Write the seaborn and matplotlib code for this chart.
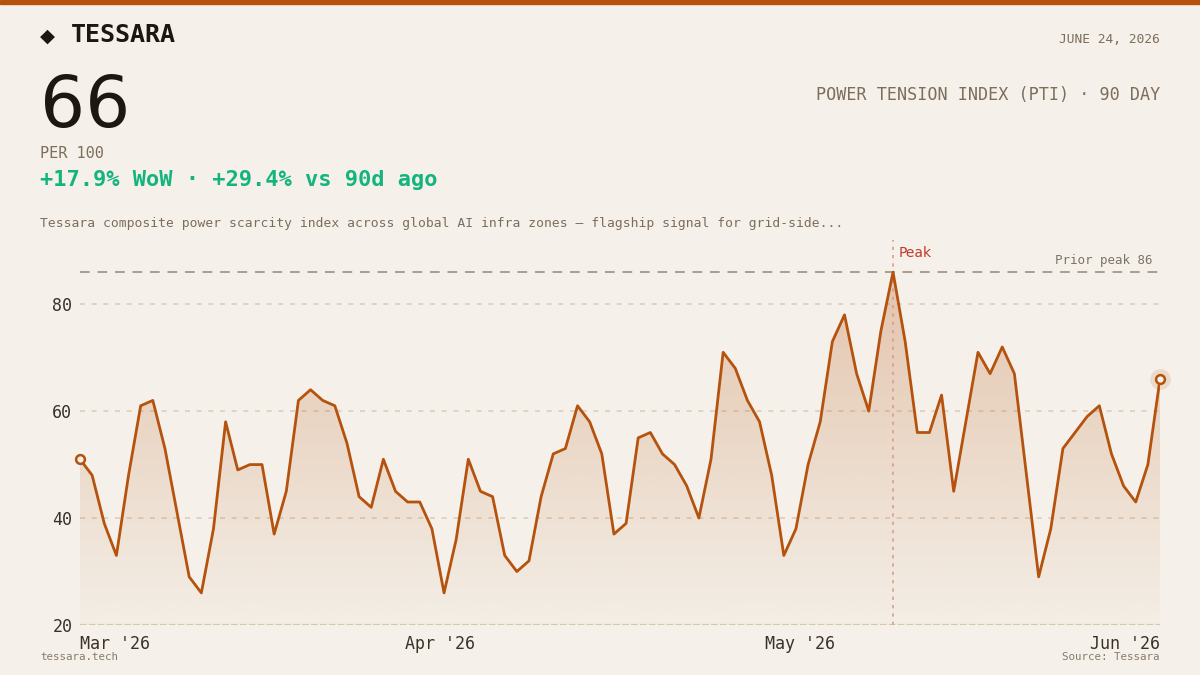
import numpy as np
import pandas as pd
import matplotlib
matplotlib.use("Agg")
import matplotlib.pyplot as plt
from matplotlib.patches import Rectangle
import seaborn as sns

# data (90 daily points)
pti_values = [51, 48, 39, 33, 48, 61, 62, 53, 41, 29,
              26, 38, 58, 49, 50, 50, 37, 45, 62, 64,
              62, 61, 54, 44, 42, 51, 45, 43, 43, 38,
              26, 36, 51, 45, 44, 33, 30, 32, 44, 52,
              53, 61, 58, 52, 37, 39, 55, 56, 52, 50,
              46, 40, 51, 71, 68, 62, 58, 48, 33, 38,
              50, 58, 73, 78, 67, 60, 75, 86, 73, 56,
              56, 63, 45, 58, 71, 67, 72, 67, 48, 29,
              38, 53, 56, 59, 61, 52, 46, 43, 50, 66]
month_labels = ["Mar '26", "Apr '26", "May '26", "Jun '26"]
y_ticks = [20, 40, 60, 80]
prior_peak = 86

df = pd.DataFrame({"day": np.arange(len(pti_values)), "pti": pti_values})
peak_day = int(df["pti"].idxmax())

BG = "#f5f1ea"
LINE = "#b5520e"
DARK = "#1c1712"
MUTED = "#7d6d5b"
MONO = "DejaVu Sans Mono"

sns.set_theme(style="white")
plt.rcParams["font.family"] = ["DejaVu Sans"]

fig = plt.figure(figsize=(12, 6.75), dpi=100, facecolor=BG)
ax = fig.add_axes([80 / 1200, 50 / 675, 1080 / 1200, 385 / 675])
ax.set_facecolor(BG)

ymin, ymax = 20, 92
last = len(df) - 1

# gradient fill under the line
fill = ax.fill_between(df["day"], df["pti"], ymin, color="none", lw=0)
rgb = matplotlib.colors.to_rgb(LINE)
alpha = np.linspace(0.02, 0.28, 256).reshape(-1, 1)
grad = np.zeros((256, 1, 4))
grad[..., :3] = rgb
grad[..., 3] = alpha
im = ax.imshow(grad, extent=[0, last, ymin, prior_peak], origin="lower",
               aspect="auto", zorder=1, interpolation="bicubic")
im.set_clip_path(fill.get_paths()[0], transform=ax.transData)

# gridlines
for t in y_ticks[1:]:
    ax.axhline(t, color="#dccfb8", lw=1.2, ls=(0, (3, 4)), zorder=0)
ax.axhline(ymin, color="#d8cab0", lw=1.6, ls=(0, (3, 1)), zorder=0)

# prior peak reference
ax.axhline(prior_peak, color="#a89e8e", lw=1.4, ls=(0, (5, 4)), zorder=2)
ax.text(last - 0.6, prior_peak + 1.0, "Prior peak 86", ha="right", va="bottom",
        fontsize=9, color="#7d7265", family=MONO)

# peak marker
ax.axvline(peak_day, color="#e09a90", lw=1.2, ls=(0, (2, 3)), zorder=2)
ax.text(peak_day + 0.5, 88.2, "Peak", ha="left", va="bottom",
        fontsize=10, color="#c0392b")

sns.lineplot(data=df, x="day", y="pti", color=LINE, lw=2.0, ax=ax, zorder=3)

# endpoint markers
ax.scatter([df["day"].iloc[-1]], [df["pti"].iloc[-1]], s=220, color=LINE,
           alpha=0.15, lw=0, zorder=4, clip_on=False)
ax.scatter(df["day"].iloc[[0, -1]], df["pti"].iloc[[0, -1]], s=40,
           facecolor=BG, edgecolor=LINE, lw=1.8, zorder=5, clip_on=False)

ax.set_xlim(0, last)
ax.set_ylim(ymin, ymax)
ax.set_xticks(np.linspace(0, last, len(month_labels)))
ax.set_xticklabels(month_labels)
ax.set_yticks(y_ticks)
ax.tick_params(length=0, labelsize=12, colors="#3a3128")
ax.tick_params(axis="x", pad=7)
ax.tick_params(axis="y", pad=5.5)
for lab in ax.get_xticklabels() + ax.get_yticklabels():
    lab.set_family(MONO)
xl = ax.get_xticklabels()
xl[0].set_ha("left")
xl[-1].set_ha("right")
ax.set_xlabel("")
ax.set_ylabel("")
sns.despine(ax=ax, left=True, bottom=True)


def ftext(x, y, s, **kw):
    fig.text(x / 1200, 1 - y / 675, s, va="baseline", **kw)


# top accent bar
fig.patches.append(Rectangle((0, 1 - 4 / 675), 1, 4 / 675, transform=fig.transFigure,
                             color=LINE, zorder=10))

ftext(40, 42, "◆", fontsize=14, color=DARK)
ftext(71, 42, "TESSARA", fontsize=18, color=DARK, family=MONO, weight="bold")
ftext(1160, 43, "JUNE 24, 2026", fontsize=9.3, color=MUTED, family=MONO, ha="right")
ftext(1160, 100, "POWER TENSION INDEX (PTI) · 90 DAY", fontsize=12.05, color=MUTED,
      family=MONO, ha="right")
ftext(40, 127, "66", fontsize=51, color=DARK)
ftext(40, 158, "PER 100", fontsize=11, color=MUTED, family=MONO)
ftext(40, 186, "+17.9% WoW · +29.4% vs 90d ago", fontsize=15.8, color="#14b47e",
      family=MONO, weight="bold")
ftext(40, 227, "Tessara composite power scarcity index across global AI infra zones "
      "— flagship signal for grid-side...", fontsize=9.4, color=MUTED, family=MONO)
ftext(40, 660, "tessara.tech", fontsize=7.8, color="#8a7a68", family=MONO)
ftext(1160, 660, "Source: Tessara", fontsize=7.8, color="#8a7a68", family=MONO, ha="right")

fig.savefig("out.png", dpi=100, facecolor=BG)
